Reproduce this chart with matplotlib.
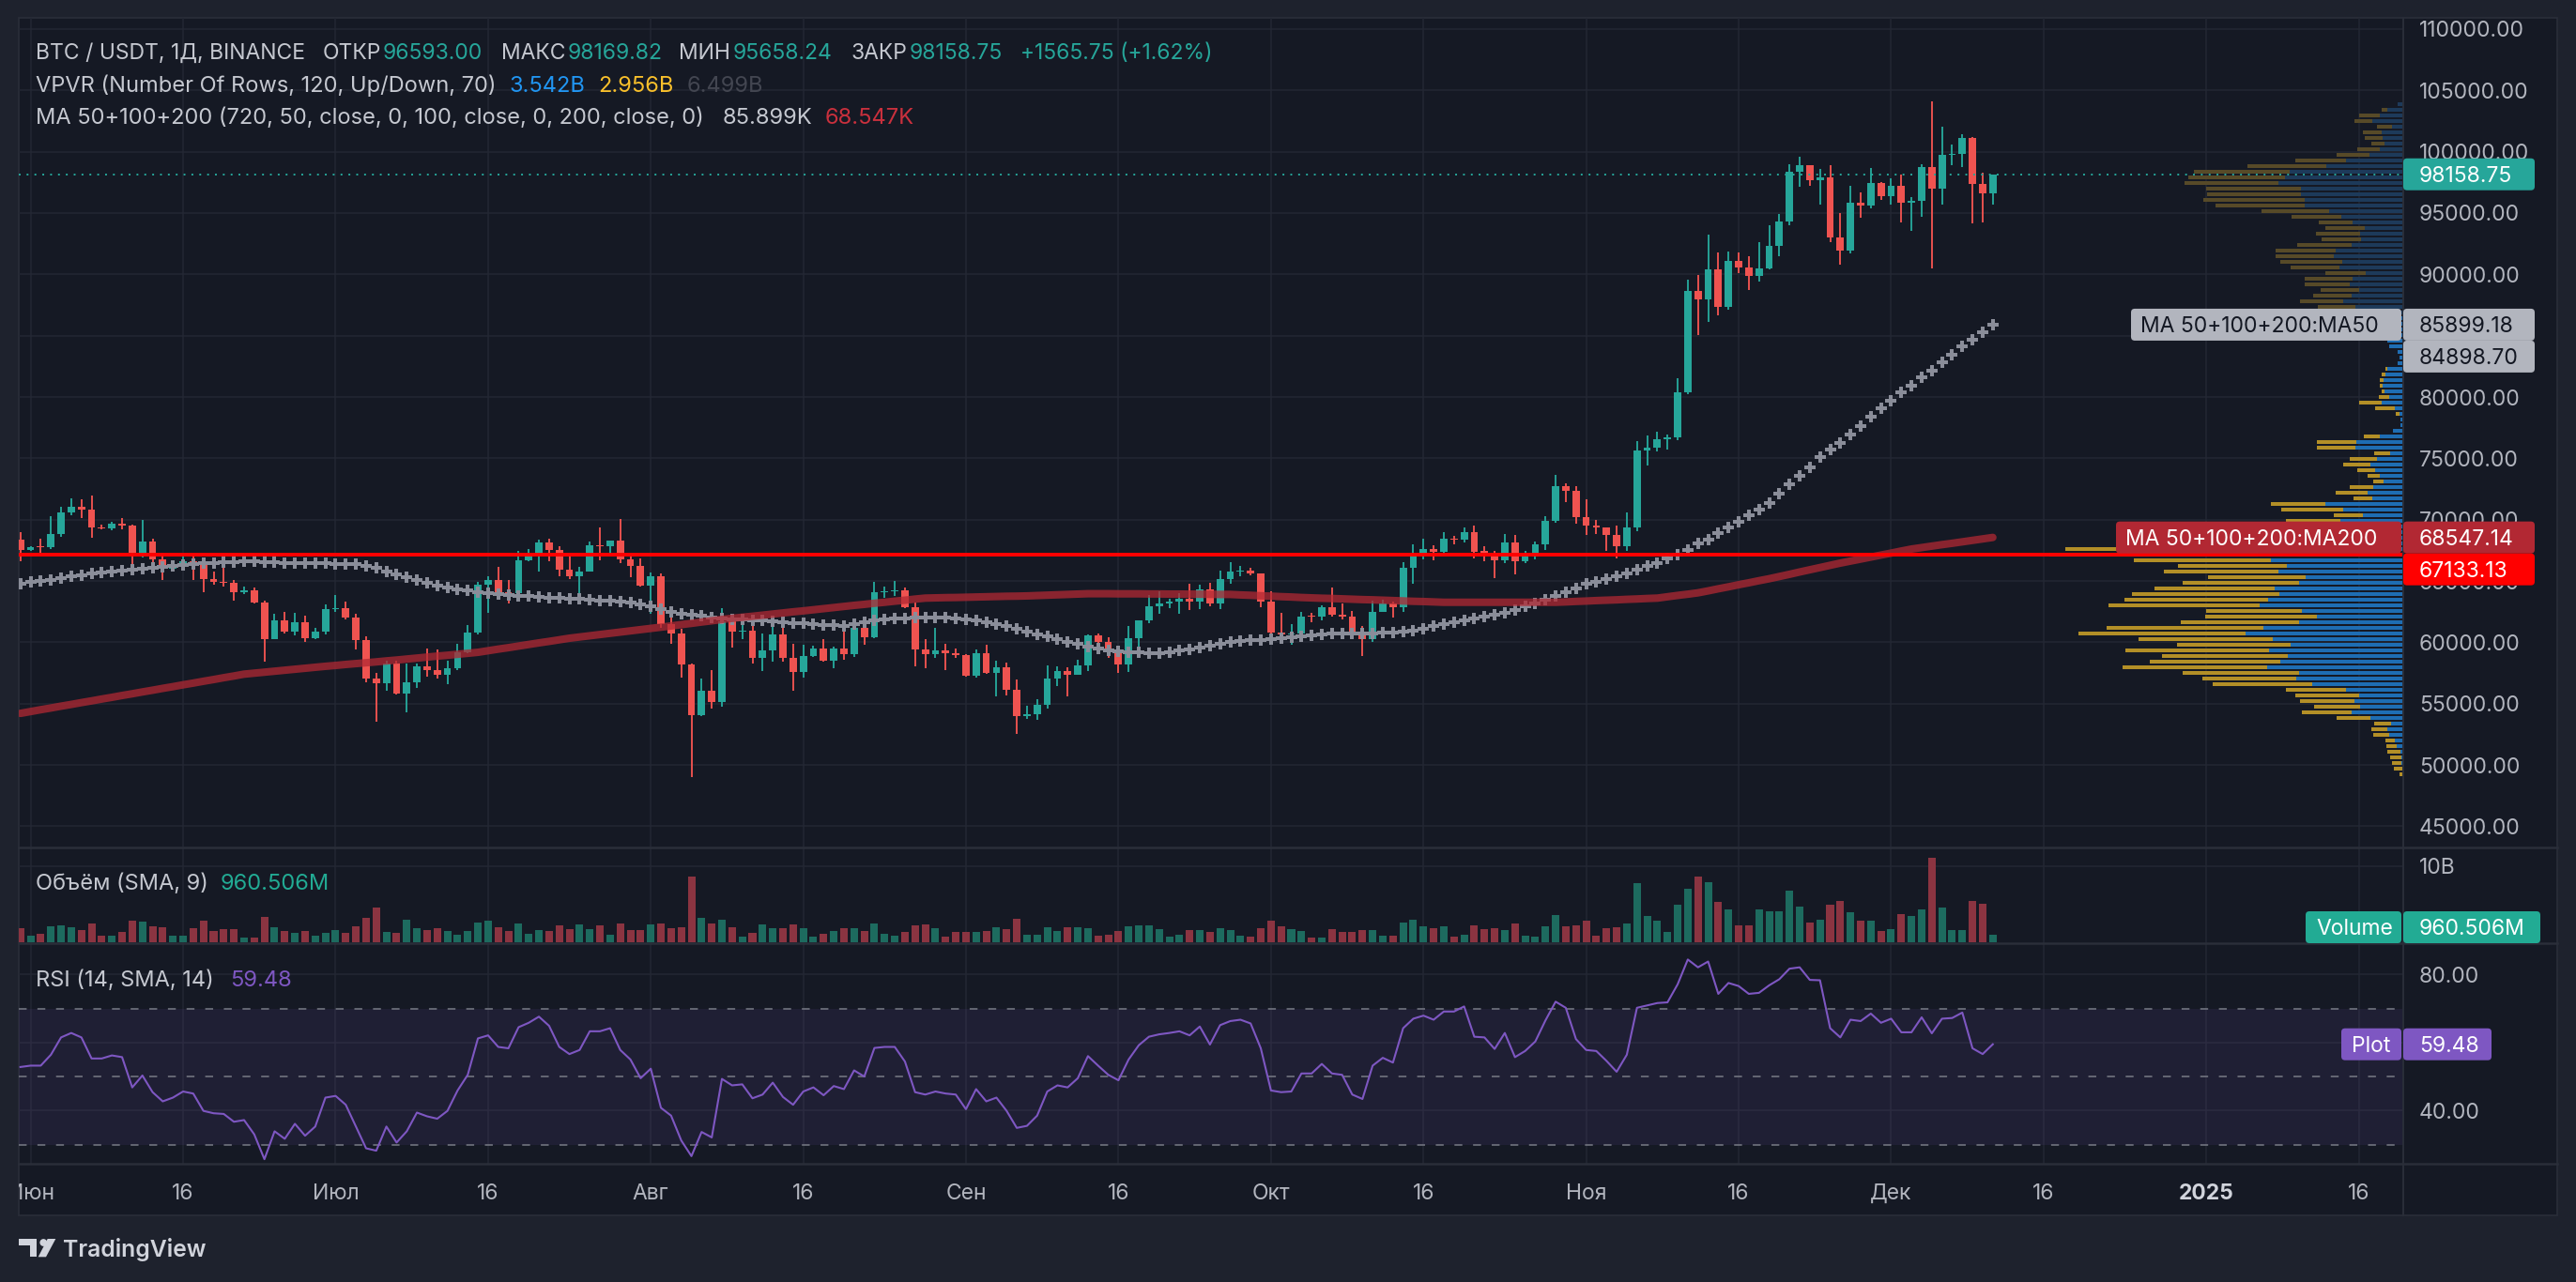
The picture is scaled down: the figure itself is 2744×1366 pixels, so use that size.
import numpy as np
import pandas as pd
import matplotlib
matplotlib.use("Agg")
import matplotlib.pyplot as plt
import matplotlib.dates as mdates
import matplotlib.transforms as mtransforms
from matplotlib.patches import FancyBboxPatch, Rectangle, Circle, Polygon
from matplotlib.lines import Line2D

plt.rcParams["font.family"] = ["Inter", "DejaVu Sans"]

# ---------------- data ----------------
dates = pd.date_range("2024-05-31", "2024-12-11", freq="D")

open_ = [68350, 67530, 67770, 67740, 68800, 70570, 71080, 70800, 69360, 69310,
         69650, 69510, 67320, 68240, 66760, 66010, 66190, 66640, 66490, 65150,
         64960, 64830, 64100, 64250, 63210, 60280, 61800, 60860, 61670, 60320,
         60890, 62670, 62770, 62030, 60200, 57040, 56660, 58240, 55850, 56700,
         58050, 57720, 57340, 57890, 59200, 60800, 64720, 65040, 64090, 63970,
         66700, 67150, 68170, 67540, 65940, 65370, 65800, 67900, 67810, 68260,
         66780, 66190, 64620, 65360, 61500, 60700, 58160, 54020, 56040, 55130,
         61710, 60880, 60950, 58710, 59350, 60610, 58740, 57560, 58880, 59480,
         58480, 59490, 59010, 61160, 60380, 64090, 64180, 64250, 62830, 59420,
         59030, 59370, 59120, 58970, 57300, 59130, 57490, 57970, 56160, 53950,
         54160, 54870, 57040, 57650, 57340, 58130, 60570, 60000, 59180, 58210,
         60310, 61760, 62950, 63200, 63350, 63580, 63330, 64300, 63140, 65180,
         65770, 65870, 65600, 63330, 60800, 60650, 60750, 62080, 62060, 62820,
         62220, 62130, 60580, 60270, 62450, 63200, 62850, 66080, 67040, 67610,
         67400, 68420, 68360, 69000, 67370, 67330, 66660, 68160, 66640, 67010,
         67950, 69910, 72720, 72340, 70220, 69480, 69340, 68750, 67800, 69360,
         75640, 75900, 76540, 76680, 80370, 88650, 87950, 90380, 87320, 91060,
         90560, 89850, 90460, 92310, 94290, 98350, 98890, 97670, 97900, 93010,
         91970, 95860, 95640, 97460, 96410, 97190, 95840, 95990, 98770, 96970,
         99740, 99830, 101110, 97400, 96593.00]
high = [69000, 67860, 68450, 70290, 71060, 71760, 71630, 71990, 69580, 69850,
        70150, 69560, 69990, 68450, 67300, 66450, 66980, 67200, 66490, 65730,
        66480, 65060, 64520, 64490, 63360, 62360, 62480, 62380, 62180, 61190,
        63060, 63860, 63280, 62290, 60500, 57500, 58480, 58470, 58240, 58300,
        59470, 59390, 58520, 59850, 61420, 64900, 65390, 66130, 65110, 67450,
        67610, 68370, 68480, 67820, 67100, 66170, 68220, 69400, 68320, 70080,
        66990, 66810, 65660, 65600, 62200, 61120, 58300, 57050, 57720, 62750,
        61750, 61470, 61860, 60680, 61580, 61800, 59850, 59790, 59690, 60270,
        59620, 61400, 61820, 61410, 64950, 64520, 65000, 64480, 63230, 60230,
        61190, 59840, 59460, 59060, 59420, 59810, 58520, 58330, 56990, 54850,
        55320, 58090, 58040, 57990, 58590, 60670, 60680, 60400, 59210, 61340,
        61790, 63870, 64130, 63560, 64000, 64750, 64680, 64820, 65840, 66500,
        66260, 66080, 65620, 64130, 62390, 61480, 62480, 62370, 62980, 64480,
        63200, 62520, 61300, 63420, 63480, 63280, 66500, 67950, 68420, 67940,
        68990, 68690, 69400, 69520, 67840, 67460, 68850, 68770, 67450, 68220,
        70270, 73620, 72960, 72700, 71630, 70000, 69380, 69480, 70570, 76400,
        76860, 77200, 76930, 81500, 89530, 89940, 93270, 91760, 91850, 91800,
        91450, 92600, 94000, 94900, 98990, 99590, 98900, 98580, 98870, 94970,
        97200, 96650, 98690, 97500, 97840, 98130, 96300, 99000, 104090, 102040,
        100550, 101400, 101200, 98270, 98169.82]
low = [66600, 67440, 67300, 67610, 68560, 70380, 70120, 68500, 69220, 69130,
       69230, 66050, 66900, 66300, 65080, 65860, 66030, 65060, 64060, 64700,
       64520, 63380, 63940, 63180, 58400, 60240, 60710, 60560, 60000, 60280,
       60630, 62500, 61830, 59440, 56770, 53490, 56020, 55720, 54260, 56300,
       57160, 57050, 56600, 57760, 59090, 60640, 62430, 63900, 63200, 63300,
       66580, 65800, 66570, 65380, 65120, 63420, 65760, 66660, 67060, 66480,
       65320, 64530, 62300, 61200, 59850, 57120, 49000, 53970, 54560, 54730,
       59580, 60270, 58290, 57690, 58400, 58430, 56080, 57100, 58800, 58410,
       57860, 58600, 58790, 59780, 60350, 63590, 63800, 62800, 58030, 57860,
       58750, 57700, 58740, 57200, 57130, 57410, 55610, 55640, 52550, 53740,
       53640, 54590, 56400, 55550, 57320, 57630, 59570, 58700, 57490, 57610,
       59170, 61570, 62350, 62770, 62360, 62600, 62700, 62970, 62670, 64800,
       65420, 65430, 62860, 60160, 60000, 59830, 60460, 61650, 61800, 62130,
       61840, 60360, 58900, 60050, 62450, 62050, 62450, 64800, 66750, 66670,
       67180, 68000, 68100, 66820, 66580, 65260, 66430, 65520, 66460, 66760,
       67520, 69730, 71440, 69690, 68780, 68800, 67460, 66800, 67450, 69060,
       74420, 75560, 75710, 76490, 80220, 85070, 86130, 86670, 87120, 90090,
       88720, 89380, 90400, 91500, 94000, 97150, 97200, 95700, 92600, 90770,
       91700, 94600, 95400, 96100, 95700, 94200, 93580, 94660, 90500, 95700,
       98900, 98770, 94150, 94260, 95658.24]
close = [67530, 67770, 67740, 68800, 70570, 71080, 70800, 69360, 69310, 69650,
         69510, 67320, 68240, 66760, 66010, 66190, 66640, 66490, 65150, 64960,
         64830, 64100, 64250, 63210, 60280, 61800, 60860, 61670, 60320, 60890,
         62670, 62770, 62030, 60200, 57040, 56660, 58240, 55850, 56700, 58050,
         57720, 57340, 57890, 59200, 60800, 64720, 65040, 64090, 63970, 66700,
         67150, 68170, 67540, 65940, 65370, 65800, 67900, 67810, 68260, 66780,
         66190, 64620, 65360, 61500, 60700, 58160, 54020, 56040, 55130, 61710,
         60880, 60950, 58710, 59350, 60610, 58740, 57560, 58880, 59480, 58480,
         59490, 59010, 61160, 60380, 64090, 64180, 64250, 62830, 59420, 59030,
         59370, 59120, 58970, 57300, 59130, 57490, 57970, 56160, 53950, 54160,
         54870, 57040, 57650, 57340, 58130, 60570, 60000, 59180, 58210, 60310,
         61760, 62950, 63200, 63350, 63580, 63330, 64300, 63140, 65180, 65770,
         65870, 65600, 63330, 60800, 60650, 60750, 62080, 62060, 62820, 62220,
         62130, 60580, 60270, 62450, 63200, 62850, 66080, 67040, 67610, 67400,
         68420, 68360, 69000, 67370, 67330, 66660, 68160, 66640, 67010, 67950,
         69910, 72720, 72340, 70220, 69480, 69340, 68750, 67800, 69360, 75640,
         75900, 76540, 76680, 80370, 88650, 87950, 90380, 87320, 91060, 90560,
         89850, 90460, 92310, 94290, 98350, 98890, 97670, 97900, 93010, 91970,
         95860, 95640, 97460, 96410, 97190, 95840, 95990, 98770, 96970, 99740,
         99830, 101110, 97400, 96593.00, 98158.75]
volume_b = [1.9, 0.8, 1.1, 2.1, 2.2, 2.0, 1.6, 2.5, 0.8, 0.9,
            1.3, 2.8, 2.7, 2.1, 2.0, 0.9, 0.8, 1.9, 2.8, 1.5,
            1.7, 1.7, 0.65, 0.65, 3.3, 2.0, 1.5, 1.2, 1.5, 0.9,
            1.2, 1.6, 1.2, 2.1, 3.2, 4.6, 1.4, 1.2, 2.9, 1.8,
            1.6, 1.8, 1.5, 1.0, 1.5, 2.6, 2.8, 2.0, 1.5, 2.4,
            1.1, 1.6, 1.5, 2.2, 1.7, 2.3, 1.7, 2.2, 1.0, 2.5,
            1.6, 1.6, 2.3, 2.5, 1.9, 2.0, 8.6, 3.2, 2.5, 2.95,
            2.0, 0.7, 1.2, 2.3, 1.9, 1.8, 2.3, 1.8, 0.7, 1.1,
            1.5, 1.9, 1.8, 1.5, 2.4, 1.1, 0.9, 1.3, 2.2, 2.3,
            1.8, 0.7, 1.3, 1.4, 1.4, 1.5, 2.0, 1.7, 3.1, 1.0,
            1.0, 2.0, 1.5, 2.0, 2.0, 1.9, 0.9, 1.0, 1.5, 2.1,
            2.2, 2.2, 1.7, 0.7, 1.0, 1.6, 1.6, 1.3, 1.9, 1.6,
            0.9, 0.7, 1.9, 2.8, 2.1, 1.7, 1.5, 0.6, 0.6, 1.7,
            1.4, 1.4, 1.6, 1.6, 0.9, 0.9, 2.6, 2.9, 2.1, 1.8,
            2.1, 0.7, 1.0, 2.2, 1.7, 1.9, 1.6, 2.5, 0.9, 0.7,
            2.1, 3.6, 2.1, 2.2, 2.8, 0.9, 1.9, 2.0, 2.5, 7.7,
            3.5, 2.8, 1.3, 4.9, 7.0, 8.6, 7.9, 5.3, 4.3, 2.2,
            2.2, 4.3, 4.1, 4.1, 6.8, 4.7, 2.6, 3.0, 4.9, 5.4,
            3.9, 2.8, 2.8, 1.5, 1.7, 3.7, 3.5, 4.3, 11.1, 4.5,
            1.6, 1.6, 5.4, 5.1, 0.960506]
rsi = [52.8, 53.2, 53.2, 56.4, 61.5, 62.8, 61.5, 55.3, 55.3, 56.2,
       55.7, 46.8, 50.3, 45.4, 42.7, 43.8, 45.6, 45.0, 39.9, 39.2,
       39.0, 36.7, 37.2, 33.0, 25.7, 33.9, 31.7, 36.1, 32.6, 35.3,
       43.8, 44.3, 41.7, 35.3, 28.9, 28.2, 35.3, 30.6, 33.9, 39.4,
       38.3, 37.6, 39.9, 45.9, 50.5, 61.2, 62.1, 58.7, 58.3, 64.5,
       65.8, 67.6, 64.9, 58.7, 56.6, 57.8, 63.3, 63.3, 64.2, 57.8,
       55.0, 49.5, 52.3, 40.8, 38.5, 31.2, 26.6, 33.7, 32.1, 49.3,
       47.4, 47.7, 43.6, 44.7, 48.2, 44.0, 41.7, 45.6, 46.8, 44.5,
       47.2, 46.3, 51.8, 50.0, 58.4, 58.7, 58.7, 54.4, 45.4, 44.7,
       45.6, 45.0, 44.7, 40.4, 46.3, 42.7, 43.8, 39.9, 34.9, 35.5,
       38.5, 45.6, 47.4, 46.8, 49.5, 56.0, 53.2, 50.5, 48.9, 55.0,
       59.2, 61.7, 62.4, 62.8, 63.3, 62.1, 64.7, 59.4, 65.1, 66.3,
       66.7, 65.6, 58.3, 45.9, 45.4, 45.6, 50.9, 50.9, 53.7, 50.9,
       50.5, 44.7, 43.4, 53.2, 55.5, 54.1, 64.2, 67.0, 67.9, 66.7,
       69.1, 69.1, 70.6, 61.7, 61.5, 58.1, 62.8, 55.7, 57.5, 60.3,
       66.5, 72.0, 70.2, 61.0, 57.8, 57.5, 54.6, 51.4, 56.4, 70.2,
       70.9, 71.6, 71.8, 77.1, 84.4, 82.1, 83.8, 74.3, 77.5, 76.6,
       74.3, 74.6, 76.8, 78.6, 81.7, 82.1, 78.4, 78.3, 64.2, 61.5,
       66.7, 66.3, 68.5, 65.8, 67.0, 63.0, 63.0, 67.4, 62.7, 67.0,
       67.2, 68.8, 58.3, 56.6, 59.48]
ma50 = [64800, 64900, 65000, 65100, 65250, 65380, 65480, 65580, 65680, 65780,
        65880, 65950, 66020, 66100, 66170, 66240, 66310, 66370, 66420, 66470,
        66520, 66560, 66580, 66580, 66560, 66520, 66480, 66450, 66440, 66430,
        66420, 66410, 66400, 66380, 66250, 66050, 65800, 65550, 65300, 65050,
        64850, 64650, 64480, 64330, 64200, 64100, 64020, 63950, 63880, 63800,
        63750, 63700, 63650, 63600, 63560, 63520, 63480, 63430, 63380, 63320,
        63260, 63100, 62900, 62700, 62500, 62350, 62250, 62150, 62050, 61950,
        61880, 61850, 61800, 61750, 61700, 61630, 61580, 61530, 61480, 61420,
        61370, 61350, 61450, 61600, 61750, 61880, 61920, 61950, 61980, 62000,
        61990, 61980, 61950, 61900, 61800, 61650, 61480, 61330, 61100, 60900,
        60650, 60450, 60250, 60050, 59850, 59650, 59480, 59350, 59280, 59200,
        59150, 59110, 59120, 59180, 59300, 59440, 59600, 59750, 59900, 60000,
        60080, 60150, 60200, 60270, 60330, 60420, 60500, 60580, 60650, 60710,
        60720, 60720, 60715, 60730, 60760, 60800, 60830, 60950, 61100, 61300,
        61500, 61650, 61800, 61950, 62100, 62250, 62400, 62650, 62900, 63150,
        63450, 63750, 64050, 64400, 64750, 64950, 65150, 65350, 65650, 65950,
        66200, 66450, 66800, 67150, 67550, 68060, 68370, 68880, 69390, 69850,
        70330, 70840, 71380, 72120, 72880, 73600, 74280, 75080, 75690, 76230,
        76910, 77600, 78370, 79060, 79720, 80360, 80920, 81610, 82170, 82830,
        83470, 84160, 84690, 85280, 85899.18]
ma200 = [54200, 54350, 54500, 54640, 54790, 54930, 55080, 55220, 55370, 55510,
         55660, 55800, 55950, 56090, 56240, 56380, 56530, 56670, 56820, 56960,
         57110, 57250, 57400, 57480, 57560, 57640, 57720, 57800, 57880, 57960,
         58040, 58110, 58190, 58260, 58330, 58400, 58480, 58550, 58630, 58710,
         58790, 58870, 58940, 59020, 59100, 59180, 59310, 59440, 59560, 59690,
         59820, 59950, 60070, 60200, 60330, 60430, 60530, 60630, 60730, 60830,
         60930, 61030, 61130, 61225, 61330, 61440, 61540, 61650, 61750, 61860,
         61950, 62040, 62120, 62210, 62300, 62390, 62480, 62560, 62650, 62740,
         62830, 62920, 63010, 63090, 63180, 63260, 63350, 63430, 63520, 63600,
         63620, 63640, 63650, 63670, 63690, 63710, 63730, 63750, 63760, 63780,
         63810, 63840, 63870, 63900, 63930, 63960, 63960, 63960, 63950, 63950,
         63950, 63940, 63940, 63930, 63930, 63920, 63920, 63910, 63900, 63900,
         63860, 63830, 63790, 63760, 63720, 63690, 63650, 63620, 63590, 63570,
         63540, 63510, 63480, 63460, 63430, 63400, 63370, 63340, 63320, 63290,
         63260, 63260, 63260, 63260, 63260, 63260, 63260, 63260, 63260, 63260,
         63260, 63260, 63290, 63330, 63360, 63400, 63430, 63460, 63500, 63530,
         63570, 63600, 63710, 63820, 63920, 64030, 64190, 64360, 64520, 64690,
         64850, 65020, 65180, 65360, 65540, 65730, 65910, 66090, 66270, 66455,
         66620, 66780, 66950, 67110, 67270, 67440, 67600, 67720, 67840, 67960,
         68070, 68190, 68310, 68430, 68547.14]
ma100_last = 84898.70
poc_price = 67133.13
vp_rows = 120
vp_up = [0.5, 1.5, 2.3, 1.9, 3.0, 7.2, 8.7, 14.8, 17.0, 13.3,
         34.8, 54.9, 45.8, 51.9, 47.3, 61.0, 97.3, 114.0, 111.0, 144.7,
         131.1, 122.7, 142.8, 119.7, 139.0, 167.8, 148.9, 111.0, 92.0, 108.0,
         153.0, 143.9, 131.8, 136.7, 111.0, 103.8, 133.0, 123.9, 140.9, 155.0,
         150.0, 130.0, 110.0, 100.0, 90.0, 67.0, 42.8, 64.0, 83.0, 32.6,
         37.9, 31.8, 20.8, 25.4, 29.9, 34.8, 28.4, 14.0, 50.8, 50.0,
         24.6, 11.4, 2.7, 2.7, 4.5, 9.5, 22.7, 14.8, 19.7, 22.3,
         20.8, 18.9, 17.0, 5.7, 4.5, 5.7, 14.8, 17.0, 20.0, 20.0,
         20.0, 20.0, 20.0, 50.8, 64.0, 54.9, 47.3, 56.8, 53.8, 39.8,
         68.2, 64.8, 73.9, 72.3, 54.9, 45.1, 46.2, 41.3, 53.8, 66.3,
         79.2, 104.9, 104.9, 108.7, 108.7, 132.6, 125.8, 121.2, 82.2, 61.4,
         36.0, 25.4, 19.7, 21.6, 22.7, 12.1, 33.0, 25.4, 17.0, 6.4]
vp_down = [3.5, 8.3, 9.5, 12.1, 14.0, 10.6, 10.2, 17.0, 16.7, 17.8,
           36.0, 53.0, 48.9, 58.0, 67.4, 64.0, 105.7, 100.0, 123.9, 154.2,
           138.6, 134.1, 153.0, 121.2, 142.8, 178.0, 167.0, 125.8, 118.9, 101.9,
           161.0, 153.0, 157.2, 128.0, 123.9, 104.2, 122.0, 115.9, 145.8, 222.0,
           210.0, 150.0, 120.0, 110.0, 100.0, 58.0, 31.1, 65.9, 58.0, 20.5,
           34.1, 25.0, 11.0, 12.5, 18.9, 29.5, 28.4, 17.0, 40.9, 41.7,
           17.8, 0.0, 0.0, 0.0, 3.8, 20.5, 24.6, 11.7, 3.8, 2.3,
           4.5, 4.5, 1.9, 0.0, 0.0, 0.0, 0.0, 0.0, 8.0, 8.0,
           8.0, 8.0, 8.0, 40.2, 45.8, 40.9, 40.5, 48.1, 51.1, 43.2,
           51.5, 66.3, 62.1, 63.6, 58.0, 42.0, 46.6, 42.0, 36.0, 52.7,
           71.6, 95.1, 108.0, 100.0, 101.1, 100.4, 103.0, 101.5, 83.7, 53.8,
           34.8, 23.5, 14.0, 19.7, 20.5, 15.9, 18.9, 21.6, 6.4, 0.0]
va_high = 86600
vp_totals = ["3.542B", "2.956B", "6.499B"]
ma_legend = ["85.899K", "68.547K"]
price_ticks = list(range(45000, 110001, 5000))
tick_dates = ["2024-06-01", "2024-06-16", "2024-07-01", "2024-07-16", "2024-08-01",
              "2024-08-16", "2024-09-01", "2024-09-16", "2024-10-01", "2024-10-16",
              "2024-11-01", "2024-11-16", "2024-12-01", "2024-12-16", "2025-01-01",
              "2025-01-16"]
tick_labels = ["Июн", "16", "Июл", "16", "Авг", "16", "Сен", "16", "Окт", "16",
               "Ноя", "16", "Дек", "16", "2025", "16"]

# ---------------- style / layout ----------------
W, H = 2744, 1366
OUTER = "#1E222D"
BG = "#151924"
SEP = "#2A2E39"
GRID = "#232733"
AXTXT = "#B2B5BE"
LEGTXT = "#C5C8D0"
UPC, DNC = "#26A69A", "#EF5350"
VUP, VDN = "#1D6B5F", "#8B3441"
FS = 16.5
LFS = 17.0
L, R, AXR = 20, 2560, 2724
TOP, MAIN_B, VOL_B, RSI_B, TAX_B = 19, 903, 1005, 1240, 1295
ID = mtransforms.IdentityTransform()


def rect(x0, y0, x1, y1):
    return [x0 / W, 1 - y1 / H, (x1 - x0) / W, (y1 - y0) / H]


fig = plt.figure(figsize=(W / 100, H / 100), dpi=100, facecolor=OUTER)
fig.add_artist(Rectangle((L, H - TAX_B), AXR - L, TAX_B - TOP, transform=ID,
                         fc=BG, ec=SEP, lw=1.2, zorder=-5))

ax = fig.add_axes(rect(L, TOP, R, MAIN_B))
ax_vol = fig.add_axes(rect(L, MAIN_B, R, VOL_B), sharex=ax)
ax_rsi = fig.add_axes(rect(L, VOL_B, R, RSI_B), sharex=ax)
ax_vp = fig.add_axes(rect(L, TOP, R, MAIN_B), sharey=ax)

x = mdates.date2num(dates)
jun1 = mdates.date2num(pd.Timestamp("2024-06-01"))
tx = mdates.date2num(pd.to_datetime(tick_dates))

o, h_, l_, c = (np.array(v, dtype=float) for v in (open_, high, low, close))
up = c >= o
ccol = np.where(up, UPC, DNC)

for a in (ax, ax_vol, ax_rsi):
    a.set_facecolor("none")
    for s in a.spines.values():
        s.set_visible(False)
    a.set_axisbelow(True)
    a.set_xticks(tx)
    a.tick_params(axis="x", length=0, labelbottom=False)
    a.yaxis.tick_right()
    a.tick_params(axis="y", length=0, pad=12.2, labelsize=FS, labelcolor=AXTXT)
    a.grid(True, color=GRID, lw=1.1)

ax.set_xlim(jun1 - 1.16, jun1 + 233.37)
ax.set_ylim(43266, 110918)
ax_vol.set_ylim(-0.123, 12.42)
ax_rsi.set_ylim(24.36, 89.19)

ax.set_yticks(price_ticks)
ax.set_yticklabels([f"{v:.2f}" for v in price_ticks])
ax_vol.set_yticks([10])
ax_vol.set_yticklabels(["10B"])
ax_rsi.set_yticks([40, 60, 80])
ax_rsi.set_yticklabels(["40.00", "", "80.00"])

# candles
ax.vlines(x, l_, h_, colors=ccol, lw=1.35, zorder=3)
ax.bar(x, np.maximum(np.abs(c - o), 90), bottom=np.minimum(o, c), width=0.72,
       color=ccol, lw=0, zorder=4)
# moving averages
ax.plot(x, ma50, ls="none", marker="P", ms=8.4, mew=0, color="#8A8D99", zorder=5)
ax.plot(x, ma200, color="#B22833", alpha=0.74, lw=5.8, solid_capstyle="round", zorder=6)

# volume profile
edges = np.linspace(min(low), max(high), vp_rows + 1)
centers = (edges[:-1] + edges[1:]) / 2
rh = edges[1] - edges[0]
vu, vd = np.array(vp_up), np.array(vp_down)
dim = centers > va_high
bcol = np.where(dim, "#1D3A5A", "#1E6DB3")
gcol = np.where(dim, "#574A28", "#B38F27")
ax_vp.barh(centers, vu, height=rh * 0.66, left=0, color=bcol, lw=0, zorder=1)
ax_vp.barh(centers, vd, height=rh * 0.66, left=vu, color=gcol, lw=0, zorder=1)
ax_vp.set_xlim((vu + vd).max() / (377 / 2540), 0)
ax_vp.axis("off")
ax_vp.axhline(close[-1], color=UPC, lw=1.4, ls=(0, (1, 3.3)), zorder=3)
ax_vp.axhline(poc_price, color="#FF0000", lw=2.8, zorder=3)

# volume pane
ax_vol.bar(x, volume_b, width=0.74, color=np.where(up, VUP, VDN), lw=0)

# rsi pane
ax_rsi.axhspan(30, 70, color="#7E57C2", alpha=0.1, lw=0)
for v in (70, 50, 30):
    ax_rsi.axhline(v, color="#787B86", lw=1.1, ls=(0, (5.5, 7.5)))
ax_rsi.plot(x, rsi, color="#7E57C2", lw=1.5)

# time axis labels
tb = mtransforms.Bbox.from_extents(L, H - TAX_B, R, H - RSI_B)
ttr = mtransforms.blended_transform_factory(ax_rsi.transData, ID)
for xd, lab in zip(tx, tick_labels):
    bold = lab.isdigit() and len(lab) == 4
    t = ax_rsi.text(xd, H - 1278, lab, transform=ttr, ha="center", va="baseline",
                    fontsize=FS, color="#D1D4DC" if bold else AXTXT,
                    fontweight="bold" if bold else "normal")
    t.set_clip_box(tb)
    t.set_clip_on(True)

# separators
for yy in (MAIN_B, VOL_B, RSI_B):
    fig.add_artist(Line2D([L, AXR], [H - yy, H - yy], transform=ID, color=SEP, lw=1.8, zorder=2))
fig.add_artist(Line2D([R, R], [H - TOP, H - TAX_B], transform=ID, color=SEP, lw=1.4, zorder=2))


# legend texts
def ftxt(xp, yb, s, color, size=LFS, **kw):
    fig.text(xp, H - yb, s, transform=ID, color=color, fontsize=size,
             ha="left", va="baseline", **kw)


ftxt(37.5, 63.3, "BTC / USDT, 1Д, BINANCE", LEGTXT, size=FS)
for lx, vx, lab, val in zip([343.8, 534, 723, 906], [408, 604.5, 781, 969],
                            ["ОТКР", "МАКС", "МИН", "ЗАКР"],
                            [open_[-1], high[-1], low[-1], close[-1]]):
    ftxt(lx, 63.3, lab, LEGTXT, size=FS)
    ftxt(vx, 63.3, f"{val:.2f}", UPC, size=FS)
chg = close[-1] - close[-2]
ftxt(1087, 63.3, f"{chg:+.2f} ({chg / close[-2] * 100:+.2f}%)", UPC, size=FS)

ftxt(37.5, 97.7, "VPVR (Number Of Rows, 120, Up/Down, 70)", LEGTXT)
for xp, s, col in zip([542, 637, 732], vp_totals, ["#2196F3", "#F9C02B", "#434651"]):
    ftxt(xp, 97.7, s, col)
ftxt(37.5, 131.7, "MA 50+100+200 (720, 50, close, 0, 100, close, 0, 200, close, 0)", LEGTXT)
ftxt(770, 131.7, ma_legend[0], LEGTXT)
ftxt(879, 131.7, ma_legend[1], "#C9303D")

ftxt(37.5, 948, "Объём (SMA, 9)", LEGTXT)
ftxt(235, 948, f"{volume_b[-1] * 1000:.3f}M", "#22AB94")
ftxt(37.5, 1051, "RSI (14, SMA, 14)", LEGTXT)
ftxt(245, 1051, f"{rsi[-1]:.2f}", "#7E57C2")


# right-hand labels
def ydisp(a, v):
    return a.transData.transform((a.get_xlim()[0], v))[1]


def box(x0, x1, yc, fc, hh=34):
    fig.add_artist(FancyBboxPatch((x0, yc - hh / 2), x1 - x0, hh,
                                  boxstyle="round,pad=0,rounding_size=4",
                                  transform=ID, fc=fc, ec="none", zorder=20))


def btxt(xp, yc, s, color):
    fig.text(xp, yc, s, transform=ID, color=color, fontsize=FS, ha="left",
             va="center_baseline", zorder=21)


yc = ydisp(ax, close[-1])
box(R, 2700, yc, UPC)
btxt(2577, yc, f"{close[-1]:.2f}", "white")

y50 = ydisp(ax, ma50[-1])
box(2270, 2558, y50, "#B2B5BE")
btxt(2280, y50, "MA 50+100+200:MA50", "#131722")
box(R, 2700, y50, "#B2B5BE")
btxt(2577, y50, f"{ma50[-1]:.2f}", "#131722")
y100 = min(ydisp(ax, ma100_last), y50 - 34)
box(R, 2700, y100, "#B2B5BE")
btxt(2577, y100, f"{ma100_last:.2f}", "#131722")

y200 = ydisp(ax, ma200[-1])
box(2254, 2558, y200, "#B22833")
btxt(2264, y200, "MA 50+100+200:MA200", "white")
box(R, 2700, y200, "#B22833")
btxt(2577, y200, f"{ma200[-1]:.2f}", "white")
yp = min(ydisp(ax, poc_price), y200 - 34)
box(R, 2700, yp, "#FF0000")
btxt(2577, yp, f"{poc_price:.2f}", "white")

# price labels hidden behind the value boxes, as in the reference
for lab in ax.get_yticklabels():
    s = lab.get_text()
    if s == "85000.00":
        lab.set_visible(False)
    elif s == "65000.00":
        lab.set_clip_box(mtransforms.Bbox.from_extents(R, 0, AXR, yp - 17))
        lab.set_clip_on(True)
    elif s == "70000.00":
        lab.set_clip_box(mtransforms.Bbox.from_extents(R, y200 + 17, AXR, H))
        lab.set_clip_on(True)

yv = max(ydisp(ax_vol, volume_b[-1]), H - VOL_B + 17)
box(2456, 2558, yv, "#22AB94")
btxt(2467, yv, "Volume", "white")
box(R, 2706, yv, "#22AB94")
btxt(2577, yv, f"{volume_b[-1] * 1000:.3f}M", "white")

yr = ydisp(ax_rsi, rsi[-1])
box(2494, 2558, yr, "#7E57C2")
btxt(2505, yr, "Plot", "white")
box(R, 2654, yr, "#7E57C2")
btxt(2577, yr, f"{rsi[-1]:.2f}", "white")

# TradingView logo
LOGO = "#D1D4DC"
fig.add_artist(Rectangle((20, H - 1327.3), 19.3, 7.3, transform=ID, fc=LOGO, ec="none"))
fig.add_artist(Rectangle((31.7, H - 1339.3), 7.6, 19.3, transform=ID, fc=LOGO, ec="none"))
fig.add_artist(Circle((46.3, H - 1324.0), 3.9, transform=ID, fc=LOGO, ec="none"))
fig.add_artist(Polygon([(50.7, H - 1320), (59.3, H - 1320), (49, H - 1339.3), (40.7, H - 1339.3)],
                       closed=True, transform=ID, fc=LOGO, ec="none"))
fig.text(67, H - 1339, "TradingView", transform=ID, color=LOGO, fontsize=17.8,
         fontweight="semibold", ha="left", va="baseline")

fig.savefig("out.png", dpi=100, facecolor=OUTER)
